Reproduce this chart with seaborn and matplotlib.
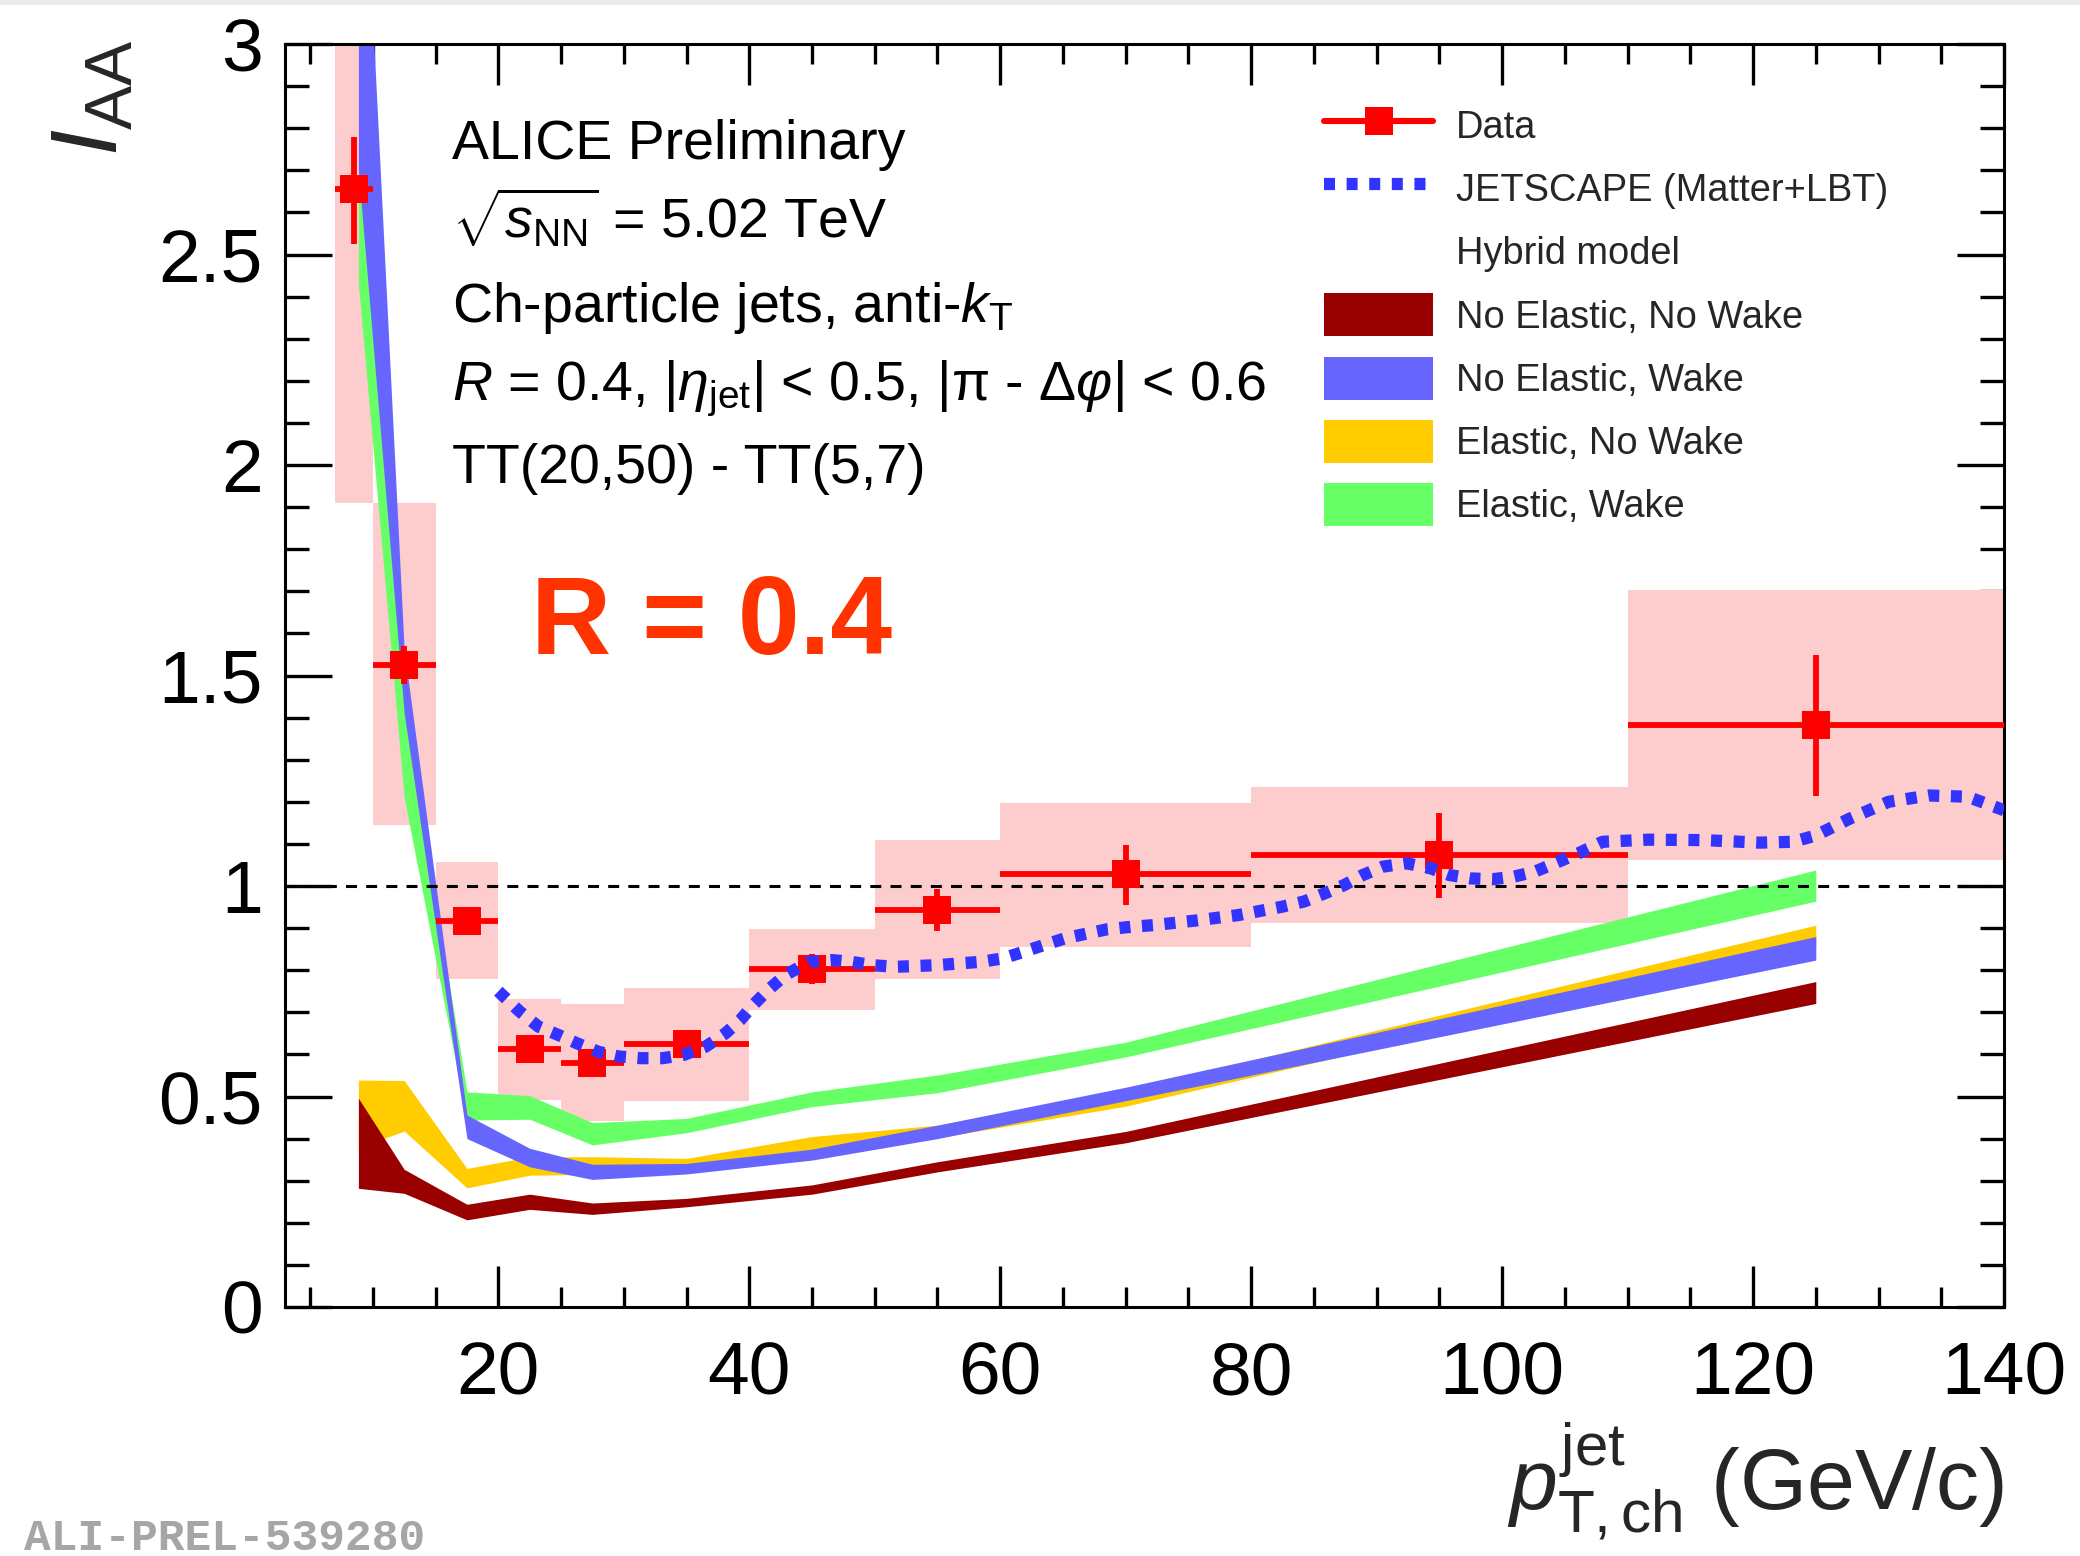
import numpy as np
import matplotlib
matplotlib.use("Agg")
import matplotlib.pyplot as plt
from matplotlib.lines import Line2D
from matplotlib.patches import Patch, Rectangle
from matplotlib.ticker import MultipleLocator, FuncFormatter
import seaborn as sns

# ---- ALICE data: I_AA vs charged-jet pT (R = 0.4) ----
bin_lo = [7, 10, 15, 20, 25, 30, 40, 50, 60, 80, 110]
bin_hi = [10, 15, 20, 25, 30, 40, 50, 60, 80, 110, 140]
pt_center = [8.5, 12.5, 17.5, 22.5, 27.5, 35, 45, 55, 70, 95, 125]
iaa = [2.655, 1.525, 0.918, 0.612, 0.580, 0.625, 0.804, 0.944, 1.029, 1.074, 1.382]
stat_lo = [2.525, 1.480, 0.900, 0.590, 0.558, 0.605, 0.768, 0.894, 0.955, 0.972, 1.214]
stat_hi = [2.779, 1.570, 0.935, 0.634, 0.602, 0.645, 0.838, 0.992, 1.097, 1.173, 1.548]
sys_lo = [1.910, 1.145, 0.779, 0.492, 0.442, 0.489, 0.706, 0.778, 0.856, 0.912, 1.062]
sys_hi = [3.400, 1.910, 1.057, 0.732, 0.720, 0.758, 0.899, 1.109, 1.198, 1.235, 1.702]

# ---- JETSCAPE (Matter+LBT) ----
jet_pt = [20.0, 21.7, 23.2, 24.8, 26.3, 28.0, 29.6, 31.4, 33.1, 34.8, 36.5, 38.1,
          39.3, 40.3, 41.5, 42.9, 44.8, 46.6, 48.1, 49.8, 51.6, 53.3, 55.0, 56.7,
          58.5, 60.2, 61.9, 63.5, 65.2, 66.9, 68.5, 70.4, 72.2, 75.6, 79.0, 82.5,
          84.2, 85.9, 87.4, 88.9, 90.5, 92.4, 94.3, 95.8, 97.5, 99.2, 100.9, 102.6,
          104.2, 106.1, 108.0, 111.6, 116.1, 120.5, 123.2, 125.0, 127.7, 130.8,
          134.0, 137.1, 140.0]
jet_iaa = [0.750, 0.702, 0.666, 0.646, 0.626, 0.606, 0.595, 0.591, 0.591, 0.599,
           0.618, 0.650, 0.682, 0.717, 0.753, 0.789, 0.820, 0.824, 0.820, 0.812,
           0.808, 0.810, 0.812, 0.816, 0.820, 0.828, 0.844, 0.860, 0.876, 0.887,
           0.897, 0.903, 0.907, 0.918, 0.931, 0.951, 0.963, 0.983, 1.002, 1.026,
           1.046, 1.054, 1.042, 1.026, 1.018, 1.016, 1.022, 1.034, 1.054, 1.078,
           1.105, 1.110, 1.109, 1.103, 1.105, 1.120, 1.160, 1.200, 1.215, 1.212,
           1.180]

# ---- Hybrid model bands ----
model_pt = [8.85, 12.5, 17.5, 22.5, 27.5, 35, 45, 55, 70, 125]
noel_nowake_lo = [0.282, 0.270, 0.207, 0.232, 0.220, 0.238, 0.268, 0.321, 0.390, 0.721]
noel_nowake_hi = [0.496, 0.327, 0.244, 0.268, 0.247, 0.258, 0.290, 0.345, 0.417, 0.773]
noel_wake_lo = [2.700, 1.410, 0.400, 0.333, 0.303, 0.316, 0.349, 0.400, 0.490, 0.824]
noel_wake_hi = [3.740, 1.560, 0.456, 0.377, 0.339, 0.341, 0.375, 0.432, 0.522, 0.880]
el_nowake_lo = [0.378, 0.418, 0.283, 0.313, 0.315, 0.320, 0.360, 0.402, 0.477, 0.855]
el_nowake_hi = [0.539, 0.538, 0.329, 0.357, 0.357, 0.353, 0.405, 0.432, 0.515, 0.907]
el_wake_lo = [2.430, 1.210, 0.444, 0.446, 0.385, 0.414, 0.476, 0.509, 0.594, 0.964]
el_wake_hi = [2.720, 1.430, 0.511, 0.502, 0.438, 0.448, 0.511, 0.551, 0.629, 1.038]

legend_labels = ["Data", "JETSCAPE (Matter+LBT)", "Hybrid model",
                 "No Elastic, No Wake", "No Elastic, Wake",
                 "Elastic, No Wake", "Elastic, Wake"]

C_DATA = "#ff0000"
C_SYS = "#fdcccc"
C_JET = "#3333ff"
C_NOEL_NOWAKE = "#990000"
C_NOEL_WAKE = "#6666ff"
C_EL_NOWAKE = "#ffcc00"
C_EL_WAKE = "#66ff66"

sns.set_theme(style="ticks")
plt.rcParams["font.family"] = ["Liberation Sans", "DejaVu Sans"]
plt.rcParams["mathtext.fontset"] = "custom"
plt.rcParams["mathtext.rm"] = "Liberation Sans"
plt.rcParams["mathtext.it"] = "Liberation Sans:italic"
plt.rcParams["mathtext.bf"] = "Liberation Sans:bold"
plt.rcParams["axes.linewidth"] = 1.1

W, H = 2080, 1556
fig = plt.figure(figsize=(W / 200, H / 200), dpi=200)
ax = fig.add_axes([285 / W, 1 - 1307 / H, (2004 - 285) / W, (1307 - 44) / H])

# systematic uncertainty boxes
ax.bar(bin_lo, np.subtract(sys_hi, sys_lo), width=np.subtract(bin_hi, bin_lo),
       bottom=sys_lo, align="edge", color=C_SYS, linewidth=0, zorder=1)

# hybrid model bands
ax.fill_between(model_pt, el_nowake_lo, el_nowake_hi, color=C_EL_NOWAKE, lw=0, zorder=2.0)
ax.fill_between(model_pt, noel_nowake_lo, noel_nowake_hi, color=C_NOEL_NOWAKE, lw=0, zorder=2.1)
ax.fill_between(model_pt, el_wake_lo, el_wake_hi, color=C_EL_WAKE, lw=0, zorder=2.2)
ax.fill_between(model_pt, noel_wake_lo, noel_wake_hi, color=C_NOEL_WAKE, lw=0, zorder=2.3)

# unity reference
ax.axhline(1.0, color="black", lw=1.1, dashes=(3.6, 3.0), zorder=2.6)

# data with statistical errors
pc = np.array(pt_center)
yv = np.array(iaa)
ax.errorbar(pc, yv,
            xerr=[pc - np.array(bin_lo), np.array(bin_hi) - pc],
            yerr=[yv - np.array(stat_lo), np.array(stat_hi) - yv],
            fmt="s", color=C_DATA, ms=10, mew=0, elinewidth=2.1, capsize=0, zorder=3)

# JETSCAPE curve
sns.lineplot(x=jet_pt, y=jet_iaa, ax=ax, color=C_JET, lw=4.4,
             linestyle=(0, (0.9, 0.95)), sort=False, estimator=None,
             legend=False, zorder=4)

ax.set_xlim(3, 140)
ax.set_ylim(0, 3)
ax.set_xlabel("")
ax.set_ylabel("")
ax.xaxis.set_major_locator(MultipleLocator(20))
ax.xaxis.set_minor_locator(MultipleLocator(5))
ax.yaxis.set_major_locator(MultipleLocator(0.5))
ax.yaxis.set_minor_locator(MultipleLocator(0.1))
fmt = FuncFormatter(lambda v, p: f"{v:g}")
ax.xaxis.set_major_formatter(fmt)
ax.yaxis.set_major_formatter(fmt)
ax.tick_params(which="both", direction="in", top=True, right=True,
               width=1.2, color="black", labelsize=27, labelcolor="black")
ax.tick_params(axis="x", which="major", length=14.8, pad=12)
ax.tick_params(axis="x", which="minor", length=7.2)
ax.tick_params(axis="y", which="major", length=17, pad=8)
ax.tick_params(axis="y", which="minor", length=8.6)
for s in ax.spines.values():
    s.set_color("black")
    s.set_linewidth(1.1)

# axis titles
fig.text(92 / W, 1 - 40 / H, r"$I_{\rm AA}$", rotation=90, ha="center", va="top",
         fontsize=34)
fig.text(2004 / W, 1 - 1510 / H, r"$p_{\rm T,ch}^{\rm jet}$ (GeV/c)", ha="right",
         va="baseline", fontsize=31)

# descriptive text
tx = 452 / W
lines = ["ALICE Preliminary",
         r"$\sqrt{s_{\rm NN}}$ = 5.02 TeV",
         r"Ch-particle jets, anti-$k_{\rm T}$",
         r"$R$ = 0.4, |$\eta_{\rm jet}$| < 0.5, |π - Δ$\varphi$| < 0.6",
         "TT(20,50) - TT(5,7)"]
baselines = [159, 238, 322, 400, 483]
for t, b in zip(lines, baselines):
    fig.text(tx, 1 - b / H, t, fontsize=20, ha="left", va="baseline", color="black")

fig.text(531 / W, 1 - 654 / H, "R = 0.4", fontsize=40, fontweight="bold",
         color="#ff3300", ha="left", va="baseline")

# legend
handles = [
    Line2D([], [], color=C_DATA, marker="s", ms=10, mew=0, lw=2.2),
    Line2D([], [], color=C_JET, lw=4.4, linestyle=(0, (0.9, 0.95))),
    Patch(facecolor="none", edgecolor="none"),
    Patch(facecolor=C_NOEL_NOWAKE, edgecolor="none"),
    Patch(facecolor=C_NOEL_WAKE, edgecolor="none"),
    Patch(facecolor=C_EL_NOWAKE, edgecolor="none"),
    Patch(facecolor=C_EL_WAKE, edgecolor="none"),
]
fig.legend(handles, legend_labels, loc="upper left",
           bbox_to_anchor=(1324 / W, 1 - 104 / H), frameon=False, fontsize=13.7,
           handlelength=2.87, handleheight=1.36, handletextpad=0.6,
           labelspacing=0.53, borderpad=0, borderaxespad=0)

# preliminary figure tag
fig.text(24 / W, 6 / H, "ALI-PREL-539280", family=["Liberation Mono", "DejaVu Sans Mono"],
         fontweight="bold", color="#a6a6a6", fontsize=16, ha="left", va="baseline")

fig.add_artist(Rectangle((0, 1 - 5 / H), 1, 5 / H, transform=fig.transFigure,
                         facecolor="#ececec", edgecolor="none"))

fig.savefig("out.png", dpi=200)
